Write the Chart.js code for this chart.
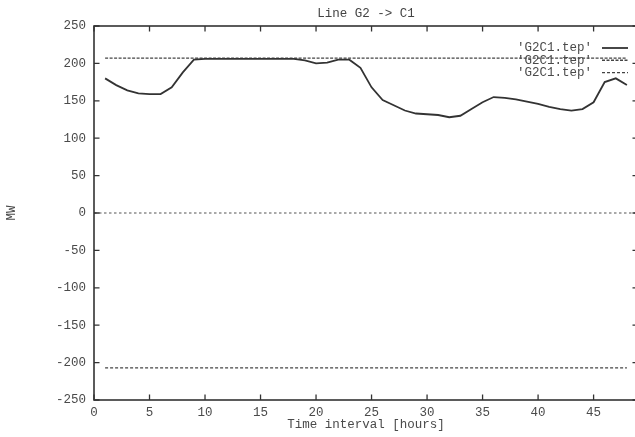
<!DOCTYPE html>
<html>
<head>
<meta charset="utf-8">
<title>Line G2 -> C1</title>
<script src="https://cdn.jsdelivr.net/npm/chart.js@4/dist/chart.umd.min.js"></script>
<style>
  html, body { margin: 0; padding: 0; overflow: hidden; background: #fff; }
  #wrap { position: absolute; left: 0; top: 0; width: 645px; height: 437px; }
</style>
</head>
<body>
<div id="wrap"><canvas id="chart" width="645" height="437"></canvas></div>
<script>
// Hourly power flow on line G2 -> C1 and its thermal limits (MW)
const hours = [1, 2, 3, 4, 5, 6, 7, 8, 9, 10, 11, 12, 13, 14, 15, 16, 17, 18, 19, 20, 21, 22, 23, 24,
               25, 26, 27, 28, 29, 30, 31, 32, 33, 34, 35, 36, 37, 38, 39, 40, 41, 42, 43, 44, 45, 46, 47, 48];
const flowMW = [180, 171, 164, 160, 159, 159, 168, 188, 205, 206, 206, 206, 206, 206, 206, 206, 206, 206, 204, 200, 201, 205, 205, 194,
                168, 151, 144, 137, 133, 132, 131, 128, 130, 139, 148, 155, 154, 152, 149, 146, 142, 139, 137, 139, 148, 175, 180, 171];
const upperLimitMW = [207, 207, 207, 207, 207, 207, 207, 207, 207, 207, 207, 207, 207, 207, 207, 207, 207, 207, 207, 207, 207, 207, 207, 207,
                      207, 207, 207, 207, 207, 207, 207, 207, 207, 207, 207, 207, 207, 207, 207, 207, 207, 207, 207, 207, 207, 207, 207, 207];
const lowerLimitMW = [-207, -207, -207, -207, -207, -207, -207, -207, -207, -207, -207, -207, -207, -207, -207, -207, -207, -207, -207, -207, -207, -207, -207, -207,
                      -207, -207, -207, -207, -207, -207, -207, -207, -207, -207, -207, -207, -207, -207, -207, -207, -207, -207, -207, -207, -207, -207, -207, -207];
const seriesNames = ["'G2C1.tep'", "'G2C1.tep'", "'G2C1.tep'"];
const xTickValues = [0, 5, 10, 15, 20, 25, 30, 35, 40, 45];
const yTickValues = [-250, -200, -150, -100, -50, 0, 50, 100, 150, 200, 250];

const mono = "'Liberation Mono', 'DejaVu Sans Mono', monospace";
const textColor = '#4a4a4a';
const inkColor = '#333333';
const baseFont = { family: mono, size: 12.5, weight: 'normal' };

const toPoints = (ys) => hours.map((h, i) => ({ x: h, y: ys[i] }));

// gnuplot-style frame: border box, inward mirrored ticks, dotted zero axis and key
const framePlugin = {
  id: 'gnuplotFrame',
  beforeDatasetsDraw(chart) {
    const { ctx, chartArea: a, scales: { y } } = chart;
    const y0 = y.getPixelForValue(0);
    ctx.save();
    ctx.strokeStyle = '#555';
    ctx.lineWidth = 1.2;
    ctx.setLineDash([2.5, 2.5]);
    ctx.beginPath();
    ctx.moveTo(a.left, y0);
    ctx.lineTo(a.right, y0);
    ctx.stroke();
    ctx.restore();
  },
  afterDatasetsDraw(chart) {
    const { ctx, chartArea: a, scales: { x, y } } = chart;
    const tick = 5.5;
    ctx.save();
    ctx.strokeStyle = inkColor;
    ctx.lineWidth = 1.6;
    ctx.setLineDash([]);
    ctx.strokeRect(a.left, a.top, a.right - a.left, a.bottom - a.top);

    ctx.lineWidth = 1.3;
    ctx.beginPath();
    xTickValues.forEach(v => {
      const px = x.getPixelForValue(v);
      ctx.moveTo(px, a.bottom); ctx.lineTo(px, a.bottom - tick);
      ctx.moveTo(px, a.top); ctx.lineTo(px, a.top + tick);
    });
    yTickValues.forEach(v => {
      const py = y.getPixelForValue(v);
      ctx.moveTo(a.left, py); ctx.lineTo(a.left + tick, py);
      ctx.moveTo(a.right, py); ctx.lineTo(a.right - tick, py);
    });
    ctx.stroke();

    // key in the upper right corner: text right-aligned, sample line after it
    ctx.font = `${baseFont.size}px ${mono}`;
    ctx.textAlign = 'right';
    ctx.textBaseline = 'middle';
    chart.data.datasets.forEach((ds, i) => {
      const rowY = a.top + 22 + i * 12.3;
      ctx.fillStyle = textColor;
      ctx.fillText(ds.label, a.right - 46, rowY);
      ctx.strokeStyle = ds.borderColor;
      ctx.lineWidth = ds.borderWidth;
      ctx.setLineDash(ds.borderDash || []);
      ctx.beginPath();
      ctx.moveTo(a.right - 36, rowY);
      ctx.lineTo(a.right - 10, rowY);
      ctx.stroke();
    });
    ctx.restore();
  }
};

new Chart(document.getElementById('chart'), {
  type: 'line',
  data: {
    datasets: [
      { label: seriesNames[0], data: toPoints(flowMW), borderColor: inkColor, borderWidth: 1.8,
        pointRadius: 0, tension: 0, fill: false },
      { label: seriesNames[1], data: toPoints(upperLimitMW), borderColor: '#444', borderWidth: 1.4,
        borderDash: [3, 1.5], pointRadius: 0, tension: 0, fill: false },
      { label: seriesNames[2], data: toPoints(lowerLimitMW), borderColor: '#444', borderWidth: 1.4,
        borderDash: [3, 2], pointRadius: 0, tension: 0, fill: false }
    ]
  },
  options: {
    responsive: false,
    animation: false,
    devicePixelRatio: 1,
    events: [],
    layout: { padding: { left: 0, right: 7, top: 0, bottom: 0 } },
    plugins: {
      legend: { display: false },
      tooltip: { enabled: false },
      title: {
        display: true,
        text: 'Line G2 -> C1',
        fullSize: false,
        color: '#444',
        font: baseFont,
        padding: { top: 6.5, bottom: 4.5 }
      }
    },
    scales: {
      x: {
        type: 'linear',
        min: 0,
        max: 49,
        afterBuildTicks: (s) => { s.ticks = xTickValues.map(v => ({ value: v })); },
        afterFit: (s) => { s.height = 37; },
        grid: { display: false, drawTicks: false },
        border: { display: false },
        ticks: { color: textColor, font: baseFont, padding: 5.5, maxRotation: 0, autoSkip: false, includeBounds: false },
        title: { display: true, text: 'Time interval [hours]', color: textColor, font: baseFont,
                 padding: { top: 0, bottom: 4.5 } }
      },
      y: {
        type: 'linear',
        min: -250,
        max: 250,
        afterBuildTicks: (s) => { s.ticks = yTickValues.map(v => ({ value: v })); },
        afterFit: (s) => { s.width = 94; },
        grid: { display: false, drawTicks: false },
        border: { display: false },
        ticks: { color: textColor, font: baseFont, padding: 8, autoSkip: false },
        title: { display: true, text: 'MW', color: textColor, font: baseFont,
                 padding: { top: 4.5, bottom: 0 } }
      }
    }
  },
  plugins: [framePlugin]
});
</script>
</body>
</html>
